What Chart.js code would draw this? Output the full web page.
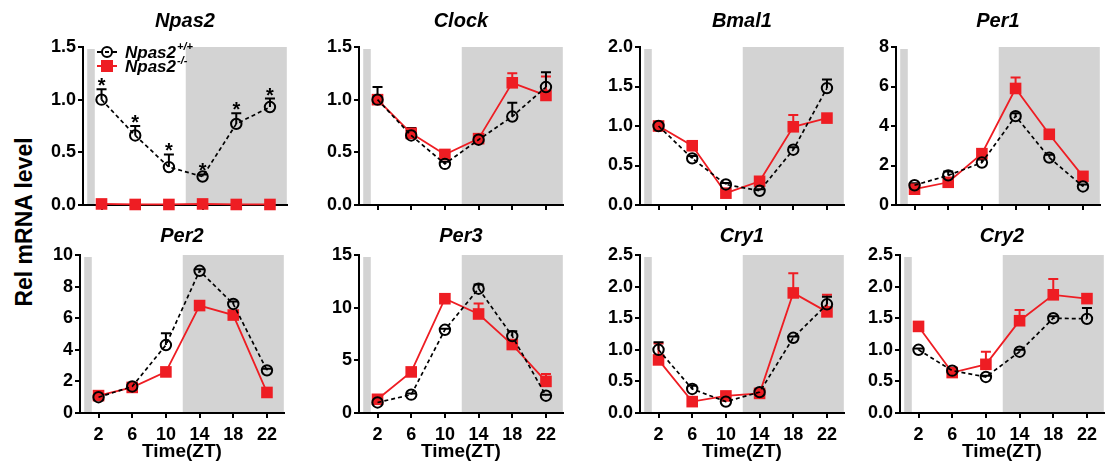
<!DOCTYPE html>
<html>
<head>
<meta charset="utf-8">
<script src="https://cdn.jsdelivr.net/npm/chart.js@4/dist/chart.umd.min.js"></script>
<style>
  body { margin: 0; background: #fff; width: 1108px; height: 470px; overflow: hidden; position: relative;
         font-family: "Liberation Sans", Arial, sans-serif; }
  canvas { position: absolute; }
  #ylab { position: absolute; left: 24px; top: 222px; transform: translate(-50%, -50%) rotate(-90deg);
          font-weight: bold; font-size: 23px; white-space: nowrap; color: #000; }
</style>
</head>
<body>
<div id="ylab">Rel mRNA level</div>
<script>
// ----------------------
// DATA
// ----------------------
const xTimes = [2, 6, 10, 14, 18, 22];
const geneNames = ["Npas2", "Clock", "Bmal1", "Per1", "Per2", "Per3", "Cry1", "Cry2"];
const yMax  = [1.5, 1.5, 2, 8, 10, 15, 2.5, 2.5];
const yStep = [0.5, 0.5, 0.5, 2, 2, 5, 0.5, 0.5];
const yDecimals = [1, 1, 1, 0, 0, 0, 1, 1];
const seriesLabels = ["Npas2", "Npas2"];
const seriesSup = ["+/+", "-/-"];

const npas2Wt    = [1.00, 0.66, 0.36, 0.27, 0.77, 0.93];
const npas2WtErr = [0.10, 0.09, 0.12, 0.02, 0.10, 0.08];
const npas2Ko    = [0.01, 0.005, 0.005, 0.01, 0.005, 0.005];
const npas2KoErr = [0, 0, 0, 0, 0, 0];
const npas2Stars = [1, 1, 1, 1, 1, 1];

const clockWt    = [1.00, 0.66, 0.39, 0.62, 0.84, 1.12];
const clockWtErr = [0.12, 0.07, 0.02, 0.03, 0.13, 0.14];
const clockKo    = [1.00, 0.68, 0.48, 0.63, 1.16, 1.04];
const clockKoErr = [0.02, 0.05, 0.02, 0.02, 0.09, 0.18];

const bmal1Wt    = [1.00, 0.59, 0.26, 0.18, 0.70, 1.48];
const bmal1WtErr = [0.03, 0.03, 0.02, 0.02, 0.03, 0.11];
const bmal1Ko    = [1.00, 0.75, 0.15, 0.30, 0.99, 1.10];
const bmal1KoErr = [0.05, 0.04, 0.02, 0.03, 0.15, 0.04];

const per1Wt    = [1.00, 1.50, 2.15, 4.50, 2.40, 0.94];
const per1WtErr = [0.10, 0.20, 0.15, 0.15, 0.15, 0.10];
const per1Ko    = [0.80, 1.15, 2.60, 5.90, 3.58, 1.45];
const per1KoErr = [0.10, 0.10, 0.10, 0.55, 0.10, 0.10];

const per2Wt    = [1.00, 1.68, 4.30, 9.00, 6.90, 2.70];
const per2WtErr = [0.10, 0.10, 0.75, 0.10, 0.15, 0.10];
const per2Ko    = [1.10, 1.62, 2.60, 6.80, 6.20, 1.30];
const per2KoErr = [0.10, 0.10, 0.10, 0.15, 0.20, 0.10];

const per3Wt    = [1.00, 1.74, 7.90, 11.80, 7.30, 1.64];
const per3WtErr = [0.20, 0.10, 0.10, 0.40, 0.45, 0.10];
const per3Ko    = [1.30, 3.90, 10.85, 9.40, 6.50, 3.00];
const per3KoErr = [0.30, 0.10, 0.10, 1.00, 0.10, 0.70];

const cry1Wt    = [1.00, 0.38, 0.18, 0.33, 1.19, 1.72];
const cry1WtErr = [0.12, 0.05, 0.03, 0.02, 0.02, 0.12];
const cry1Ko    = [0.84, 0.18, 0.27, 0.31, 1.90, 1.60];
const cry1KoErr = [0.26, 0.02, 0.03, 0.02, 0.31, 0.27];

const cry2Wt    = [1.00, 0.67, 0.57, 0.97, 1.50, 1.49];
const cry2WtErr = [0.02, 0.02, 0.02, 0.03, 0.03, 0.17];
const cry2Ko    = [1.37, 0.64, 0.77, 1.46, 1.87, 1.81];
const cry2KoErr = [0.03, 0.03, 0.20, 0.17, 0.25, 0.03];

// light / dark shading (ZT)
const lightShade = [0.3, 1.2];
const darkShade = [12, 24];

const wtSets  = [npas2Wt, clockWt, bmal1Wt, per1Wt, per2Wt, per3Wt, cry1Wt, cry2Wt];
const wtErrs  = [npas2WtErr, clockWtErr, bmal1WtErr, per1WtErr, per2WtErr, per3WtErr, cry1WtErr, cry2WtErr];
const koSets  = [npas2Ko, clockKo, bmal1Ko, per1Ko, per2Ko, per3Ko, cry1Ko, cry2Ko];
const koErrs  = [npas2KoErr, clockKoErr, bmal1KoErr, per1KoErr, per2KoErr, per3KoErr, cry1KoErr, cry2KoErr];

// ----------------------
// LAYOUT / STYLE
// ----------------------
const RED = "#ee1d23";
const GREY = "#d3d3d3";
const FONT = "'Liberation Sans', Arial, sans-serif";
const plotLeft = [83, 359, 640, 896, 80, 359, 640, 900];
const PLOT_W = 206;
const AXIS_W = 50;

// ----------------------
// PLUGINS
// ----------------------
const shadePlugin = {
  id: "shade",
  beforeDraw(chart) {
    const { ctx, chartArea: a, scales: { x } } = chart;
    ctx.save();
    ctx.fillStyle = GREY;
    const x0 = x.getPixelForValue(lightShade[0]), x1 = x.getPixelForValue(lightShade[1]);
    const topL = a.top + 2;
    ctx.fillRect(x0, topL, x1 - x0, a.bottom - topL);
    const x2 = x.getPixelForValue(darkShade[0]), x3 = x.getPixelForValue(darkShade[1]);
    ctx.fillRect(x2, a.top, x3 - x2, a.bottom - a.top);
    ctx.restore();
  }
};

const errPlugin = {
  id: "errbars",
  beforeDatasetsDraw(chart) {
    const { ctx, scales: { x, y } } = chart;
    ctx.save();
    ctx.lineWidth = 2;
    chart.data.datasets.slice().reverse().forEach(ds => {
      ctx.strokeStyle = ds.borderColor;
      ds.data.forEach((pt, k) => {
        const e = ds.err[k];
        if (!e) return;
        const px = x.getPixelForValue(pt.x);
        const y0 = y.getPixelForValue(pt.y);
        const y1 = y.getPixelForValue(pt.y + e);
        ctx.beginPath();
        ctx.moveTo(px, y0);
        ctx.lineTo(px, y1);
        ctx.moveTo(px - 5, y1);
        ctx.lineTo(px + 5, y1);
        ctx.stroke();
      });
    });
    ctx.restore();
  },
  afterDatasetsDraw(chart) {
    const stars = chart.options.plugins.stars;
    if (!stars) return;
    const { ctx, scales: { x, y } } = chart;
    const ds = chart.data.datasets[0];
    ctx.save();
    ctx.fillStyle = "#000";
    ctx.font = "bold 20px " + FONT;
    ctx.textAlign = "center";
    ctx.textBaseline = "alphabetic";
    ds.data.forEach((pt, k) => {
      if (!stars[k]) return;
      const px = x.getPixelForValue(pt.x);
      const py = y.getPixelForValue(pt.y + ds.err[k]);
      ctx.fillText("*", px, py + 3);
    });
    ctx.restore();
  }
};

const titlePlugin = {
  id: "paneltitle",
  afterDraw(chart) {
    const opt = chart.options.plugins.paneltitle;
    const { ctx, chartArea: a } = chart;
    ctx.save();
    ctx.fillStyle = "#000";
    ctx.font = "italic bold 20px " + FONT;
    ctx.textAlign = "center";
    ctx.textBaseline = "middle";
    ctx.fillText(opt.text, (a.left + a.right) / 2, a.top - opt.offset);
    ctx.restore();
  }
};

const legendPlugin = {
  id: "suplegend",
  afterDraw(chart) {
    if (!chart.options.plugins.suplegend) return;
    const { ctx, chartArea: a } = chart;
    const rows = [a.top + 5, a.top + 19];
    const mx = a.left + 24;
    ctx.save();
    chart.data.datasets.forEach((ds, i) => {
      const my = rows[i];
      ctx.strokeStyle = ds.borderColor;
      ctx.lineWidth = 2;
      ctx.setLineDash([]);
      ctx.beginPath();
      ctx.moveTo(mx - 10, my); ctx.lineTo(mx + 10, my);
      ctx.stroke();
      if (i === 0) {
        ctx.fillStyle = "#fff";
        ctx.beginPath(); ctx.arc(mx, my, 5, 0, Math.PI * 2); ctx.fill(); ctx.stroke();
        ctx.beginPath(); ctx.moveTo(mx - 2, my); ctx.lineTo(mx + 2, my); ctx.stroke();
      } else {
        ctx.fillStyle = ds.pointBackgroundColor;
        ctx.fillRect(mx - 6, my - 6, 12, 12);
      }
      ctx.fillStyle = "#000";
      ctx.textBaseline = "middle";
      ctx.textAlign = "left";
      ctx.font = "italic bold 17px " + FONT;
      const tx = a.left + 42;
      ctx.fillText(seriesLabels[i], tx, my + 1);
      const w = ctx.measureText(seriesLabels[i]).width;
      ctx.font = "italic bold 11px " + FONT;
      ctx.fillText(seriesSup[i], tx + w + 1, my - 5);
    });
    ctx.restore();
  }
};

// ----------------------
// PANELS
// ----------------------
function makePanel(i) {
  const row = i < 4 ? 0 : 1;
  const cw = AXIS_W + PLOT_W + 6;
  const ch = row ? 250 : 220;
  const canvas = document.createElement("canvas");
  canvas.width = cw;
  canvas.height = ch;
  canvas.style.left = (plotLeft[i] - AXIS_W) + "px";
  canvas.style.top = (row ? 220 : 0) + "px";
  canvas.style.width = cw + "px";
  canvas.style.height = ch + "px";
  document.body.appendChild(canvas);

  const tickFont = { family: FONT, size: 18, weight: "bold" };
  const axisLine = { display: true, color: "#000", width: 2 };
  const tickGrid = { drawOnChartArea: false, drawTicks: true, tickLength: 5, color: "#000", lineWidth: 2 };

  return new Chart(canvas, {
    type: "line",
    data: {
      datasets: [
        {
          label: "Npas2+/+",
          data: xTimes.map((x, k) => ({ x, y: wtSets[i][k] })),
          err: wtErrs[i],
          borderColor: "#000",
          borderWidth: 1.7,
          borderDash: [4, 3],
          pointStyle: "circle",
          pointRadius: 5.2,
          pointBorderWidth: 2,
          pointBackgroundColor: "rgba(0,0,0,0)",
          pointBorderColor: "#000",
          clip: false
        },
        {
          label: "Npas2-/-",
          data: xTimes.map((x, k) => ({ x, y: koSets[i][k] })),
          err: koErrs[i],
          borderColor: RED,
          borderWidth: 1.8,
          pointStyle: "rect",
          pointRadius: 8.2,
          pointBorderWidth: 0,
          pointBackgroundColor: RED,
          pointBorderColor: RED,
          clip: false
        }
      ]
    },
    options: {
      responsive: false,
      animation: false,
      devicePixelRatio: 1,
      events: [],
      layout: { padding: { top: row ? 35 : 47, right: 6, left: 0, bottom: row ? 7 : 0 } },
      plugins: {
        legend: { display: false },
        tooltip: { enabled: false },
        paneltitle: { text: geneNames[i], offset: row ? 19 : 26 },
        suplegend: i === 0,
        stars: i === 0 ? npas2Stars : null
      },
      scales: {
        x: {
          type: "linear",
          min: -0.2,
          max: 24,
          afterBuildTicks: s => { s.ticks = xTimes.map(v => ({ value: v })); },
          afterFit: s => { s.height = row ? 50 : 15; },
          ticks: { display: row === 1, color: "#000", font: tickFont, padding: 6, maxRotation: 0, autoSkip: false },
          grid: tickGrid,
          border: axisLine,
          title: {
            display: row === 1,
            text: "Time(ZT)",
            color: "#000",
            font: { family: FONT, size: 19, weight: "bold" },
            padding: { top: 0, bottom: 0 }
          }
        },
        y: {
          min: 0,
          max: yMax[i],
          afterFit: s => { s.width = AXIS_W; },
          ticks: {
            stepSize: yStep[i],
            color: "#000",
            font: tickFont,
            padding: 2,
            callback: v => Number(v).toFixed(yDecimals[i])
          },
          grid: tickGrid,
          border: axisLine
        }
      }
    },
    plugins: [shadePlugin, errPlugin, titlePlugin, legendPlugin]
  });
}

geneNames.forEach((g, i) => makePanel(i));
</script>
</body>
</html>
